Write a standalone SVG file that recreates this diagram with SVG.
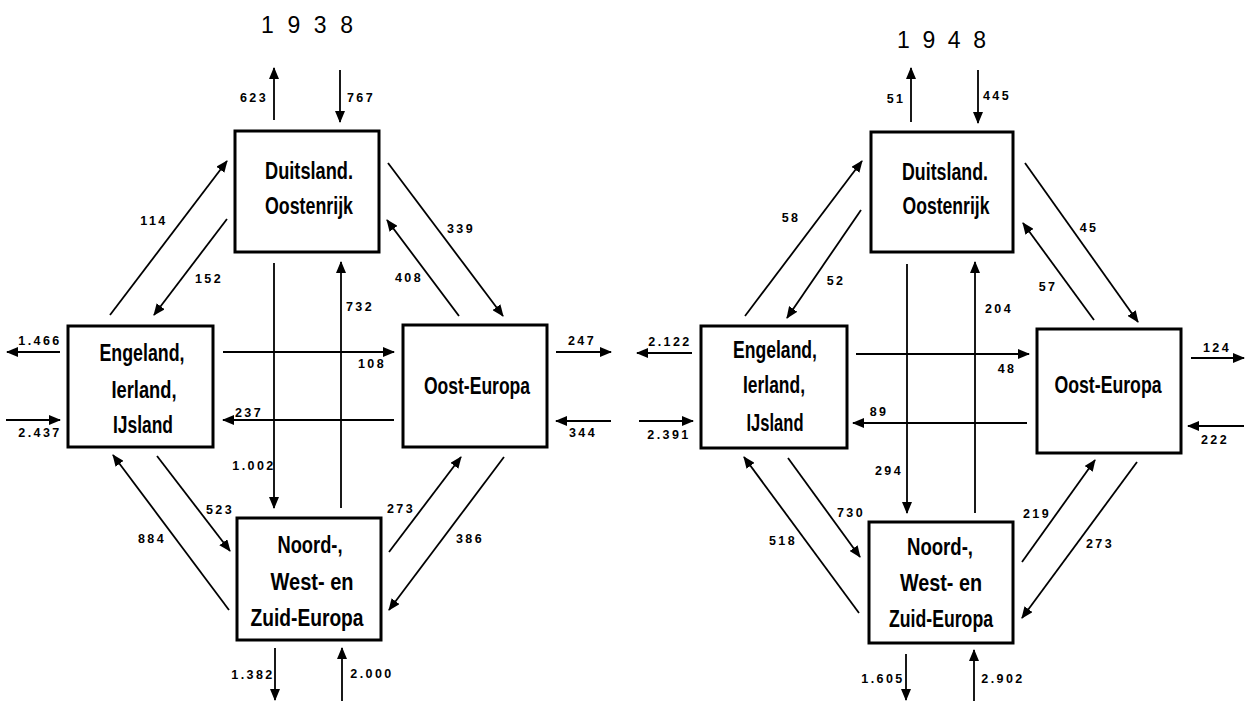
<svg xmlns="http://www.w3.org/2000/svg" width="1254" height="701" viewBox="0 0 1254 701">
<style>
.box{fill:#fff;stroke:#000;stroke-width:3}
.nt{font-family:"Liberation Sans","DejaVu Sans",sans-serif;font-weight:bold;font-size:23px;text-anchor:middle;fill:#000}
.num{font-family:"Liberation Sans","DejaVu Sans",sans-serif;font-weight:bold;font-size:12.5px;letter-spacing:2.4px;text-anchor:middle;fill:#000}
.title{font-family:"Liberation Sans","DejaVu Sans",sans-serif;font-weight:normal;font-size:23px;fill:#000}
.c line{stroke:#000;stroke-width:1.8;marker-end:url(#ah)}
</style>
<defs>
<marker id="ah" markerUnits="userSpaceOnUse" markerWidth="12" markerHeight="10" refX="11" refY="5" orient="auto">
<path d="M0,0 L12,5 L0,10 z" fill="#000"/>
</marker>
</defs>
<rect width="1254" height="701" fill="#fff"/>

<!-- ===== 1938 ===== -->
<text class="title" x="261" y="33" textLength="92" lengthAdjust="spacing">1 9 3 8</text>
<g id="l-duitsland">
<rect class="box" x="235" y="131" width="144" height="121"/>
<text class="nt" x="309" y="179" textLength="88" lengthAdjust="spacingAndGlyphs">Duitsland.</text>
<text class="nt" x="309" y="214" textLength="88" lengthAdjust="spacingAndGlyphs">Oostenrijk</text>
</g>
<g id="l-engeland">
<rect class="box" x="68" y="326" width="145" height="121"/>
<text class="nt" x="142" y="361" textLength="85" lengthAdjust="spacingAndGlyphs">Engeland,</text>
<text class="nt" x="144" y="398" textLength="65" lengthAdjust="spacingAndGlyphs">Ierland,</text>
<text class="nt" x="143" y="433" textLength="60" lengthAdjust="spacingAndGlyphs">IJsland</text>
</g>
<g id="l-oost">
<rect class="box" x="403" y="325" width="144" height="122"/>
<text class="nt" x="477" y="394" textLength="106" lengthAdjust="spacingAndGlyphs">Oost-Europa</text>
</g>
<g id="l-noord">
<rect class="box" x="237" y="518" width="144" height="122"/>
<text class="nt" x="310" y="553" textLength="65" lengthAdjust="spacingAndGlyphs">Noord-,</text>
<text class="nt" x="312" y="590" textLength="83" lengthAdjust="spacingAndGlyphs">West- en</text>
<text class="nt" x="307" y="626" textLength="113" lengthAdjust="spacingAndGlyphs">Zuid-Europa</text>
</g>
<g id="l-connectors" class="c">
<line x1="274" y1="120" x2="274" y2="68"/>
<line x1="340" y1="70" x2="340" y2="122"/>
<line x1="110" y1="315" x2="227" y2="161"/>
<line x1="227" y1="219" x2="154" y2="315"/>
<line x1="388" y1="163" x2="503" y2="316"/>
<line x1="459" y1="316" x2="387" y2="220"/>
<line x1="60" y1="352" x2="7" y2="352"/>
<line x1="6" y1="420" x2="60" y2="420"/>
<line x1="223" y1="352" x2="394" y2="352"/>
<line x1="394" y1="420" x2="223" y2="420"/>
<line x1="274" y1="263" x2="274" y2="508"/>
<line x1="341" y1="508" x2="341" y2="262"/>
<line x1="556" y1="352" x2="611" y2="352"/>
<line x1="611" y1="421" x2="556" y2="421"/>
<line x1="157" y1="456" x2="230" y2="551"/>
<line x1="229" y1="610" x2="113" y2="455"/>
<line x1="389" y1="552" x2="461" y2="457"/>
<line x1="504" y1="457" x2="389" y2="610"/>
<line x1="275" y1="648" x2="275" y2="700"/>
<line x1="342" y1="701" x2="342" y2="648"/>
</g>
<g id="l-labels">
<text class="num" x="254" y="102">623</text>
<text class="num" x="361" y="102">767</text>
<text class="num" x="154" y="225">114</text>
<text class="num" x="209" y="283">152</text>
<text class="num" x="461" y="233">339</text>
<text class="num" x="409" y="282">408</text>
<text class="num" x="360" y="311">732</text>
<text class="num" x="40" y="345">1.466</text>
<text class="num" x="40" y="437">2.437</text>
<text class="num" x="249" y="417">237</text>
<text class="num" x="372" y="368">108</text>
<text class="num" x="254" y="470">1.002</text>
<text class="num" x="220" y="514">523</text>
<text class="num" x="152" y="543">884</text>
<text class="num" x="401" y="513">273</text>
<text class="num" x="470" y="543">386</text>
<text class="num" x="582" y="345">247</text>
<text class="num" x="583" y="437">344</text>
<text class="num" x="253" y="679">1.382</text>
<text class="num" x="372" y="678">2.000</text>
</g>

<!-- ===== 1948 ===== -->
<text class="title" x="897" y="48" textLength="89" lengthAdjust="spacing">1 9 4 8</text>
<g id="r-duitsland">
<rect class="box" x="871" y="132" width="142" height="120"/>
<text class="nt" x="945" y="180" textLength="86" lengthAdjust="spacingAndGlyphs">Duitsland.</text>
<text class="nt" x="946" y="214" textLength="87" lengthAdjust="spacingAndGlyphs">Oostenrijk</text>
</g>
<g id="r-engeland">
<rect class="box" x="701" y="326" width="146" height="122"/>
<text class="nt" x="775" y="358" textLength="84" lengthAdjust="spacingAndGlyphs">Engeland,</text>
<text class="nt" x="774" y="393" textLength="62" lengthAdjust="spacingAndGlyphs">Ierland,</text>
<text class="nt" x="775" y="431" textLength="57" lengthAdjust="spacingAndGlyphs">IJsland</text>
</g>
<g id="r-oost">
<rect class="box" x="1037" y="329" width="144" height="124"/>
<text class="nt" x="1108" y="393" textLength="107" lengthAdjust="spacingAndGlyphs">Oost-Europa</text>
</g>
<g id="r-noord">
<rect class="box" x="869" y="522" width="144" height="121"/>
<text class="nt" x="940" y="555" textLength="66" lengthAdjust="spacingAndGlyphs">Noord-,</text>
<text class="nt" x="941" y="591" textLength="82" lengthAdjust="spacingAndGlyphs">West- en</text>
<text class="nt" x="941" y="627" textLength="104" lengthAdjust="spacingAndGlyphs">Zuid-Europa</text>
</g>
<g id="r-connectors" class="c">
<line x1="911" y1="122" x2="911" y2="68"/>
<line x1="978" y1="70" x2="978" y2="123"/>
<line x1="745" y1="316" x2="862" y2="161"/>
<line x1="861" y1="210" x2="787" y2="318"/>
<line x1="1025" y1="163" x2="1138" y2="322"/>
<line x1="1094" y1="320" x2="1023" y2="223"/>
<line x1="692" y1="353" x2="637" y2="353"/>
<line x1="639" y1="421" x2="693" y2="421"/>
<line x1="856" y1="354" x2="1029" y2="354"/>
<line x1="1027" y1="423" x2="853" y2="423"/>
<line x1="907" y1="264" x2="907" y2="513"/>
<line x1="975" y1="513" x2="975" y2="262"/>
<line x1="1191" y1="358" x2="1244" y2="358"/>
<line x1="1244" y1="426" x2="1188" y2="426"/>
<line x1="788" y1="458" x2="860" y2="557"/>
<line x1="859" y1="613" x2="744" y2="457"/>
<line x1="1022" y1="562" x2="1095" y2="460"/>
<line x1="1137" y1="462" x2="1022" y2="618"/>
<line x1="906" y1="654" x2="906" y2="700"/>
<line x1="974" y1="701" x2="974" y2="650"/>
</g>
<g id="r-labels">
<text class="num" x="896" y="103">51</text>
<text class="num" x="997" y="100">445</text>
<text class="num" x="791" y="222">58</text>
<text class="num" x="836" y="285">52</text>
<text class="num" x="1089" y="232">45</text>
<text class="num" x="1048" y="291">57</text>
<text class="num" x="999" y="313">204</text>
<text class="num" x="670" y="346">2.122</text>
<text class="num" x="669" y="439">2.391</text>
<text class="num" x="879" y="416">89</text>
<text class="num" x="1007" y="373">48</text>
<text class="num" x="889" y="475">294</text>
<text class="num" x="851" y="517">730</text>
<text class="num" x="783" y="545">518</text>
<text class="num" x="1037" y="518">219</text>
<text class="num" x="1100" y="548">273</text>
<text class="num" x="1217" y="352">124</text>
<text class="num" x="1215" y="444">222</text>
<text class="num" x="883" y="683">1.605</text>
<text class="num" x="1003" y="683">2.902</text>
</g>
</svg>
